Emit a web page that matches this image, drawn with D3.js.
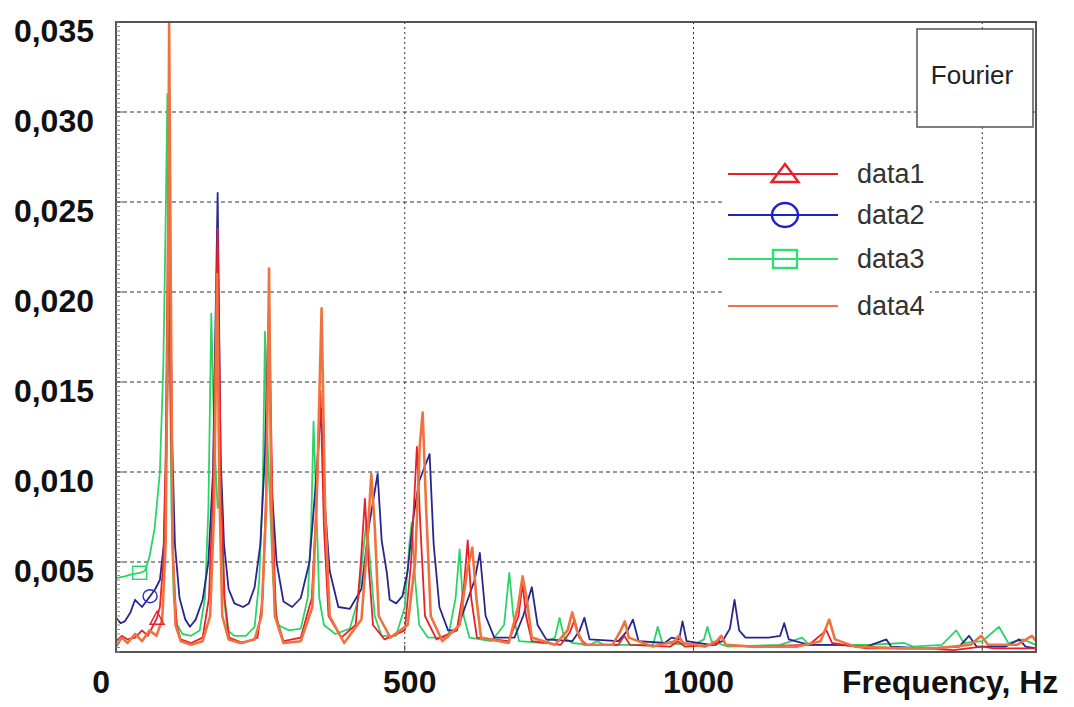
<!DOCTYPE html>
<html><head><meta charset="utf-8">
<script src="https://cdn.jsdelivr.net/npm/d3@7"></script>
<style>body{margin:0;background:#fff;}svg{display:block;}</style>
</head><body>
<svg id="chart" width="1074" height="707"></svg>
<script>
// ---------- data (frequency Hz, amplitude) ----------
const seriesNames = ["data1", "data2", "data3", "data4"];
const seriesColors = ["#e8202a", "#26268f", "#2bd468", "#f0733f"];

const data1 = [[0,0.0006],[10,0.0009],[20,0.0007],[33,0.0008],[45,0.0012],[55,0.0009],[65,0.0015],[71,0.0019],[76,0.0025],[82,0.005],[86,0.011],[91,0.027],[95,0.013],[99,0.005],[105,0.0015],[112,0.0007],[130,0.0005],[150,0.0008],[161,0.003],[168,0.009],[176,0.0235],[182,0.009],[188,0.003],[196,0.0008],[220,0.0005],[245,0.0008],[254,0.003],[260,0.009],[265,0.0195],[271,0.008],[277,0.002],[290,0.0006],[320,0.0008],[339,0.003],[347,0.008],[354,0.0145],[360,0.007],[368,0.002],[390,0.0008],[415,0.0015],[424,0.005],[431,0.0085],[437,0.005],[445,0.0015],[465,0.0007],[500,0.0012],[511,0.005],[521,0.0114],[527,0.007],[535,0.002],[555,0.0007],[590,0.0012],[602,0.0035],[609,0.0062],[615,0.003],[625,0.0008],[680,0.0006],[697,0.002],[704,0.0038],[710,0.002],[720,0.0006],[770,0.0004],[786,0.0011],[794,0.0018],[802,0.0008],[815,0.0004],[870,0.0004],[880,0.0009],[890,0.0004],[960,0.0003],[973,0.0006],[985,0.0003],[1040,0.0004],[1048,0.0009],[1056,0.0004],[1100,0.0003],[1200,0.0004],[1230,0.0012],[1240,0.0005],[1300,0.0002],[1400,0.0002],[1450,0.0001],[1500,0.0003],[1520,0.0002],[1593,0.0002]];

const data2 = [[0,0.0019],[8,0.0016],[15,0.0017],[25,0.0022],[33,0.0029],[45,0.0025],[59,0.0031],[68,0.0035],[76,0.004],[83,0.006],[88,0.012],[93,0.024],[97,0.012],[102,0.006],[110,0.003],[120,0.0018],[128,0.0014],[138,0.0018],[150,0.0029],[160,0.005],[168,0.01],[176,0.0255],[181,0.011],[187,0.006],[195,0.0035],[205,0.0027],[220,0.0025],[230,0.0027],[240,0.0036],[250,0.006],[258,0.011],[264,0.0185],[270,0.009],[278,0.005],[290,0.0028],[305,0.0025],[320,0.003],[335,0.005],[345,0.009],[355,0.0135],[362,0.008],[370,0.0045],[385,0.0025],[405,0.0024],[425,0.0035],[438,0.007],[453,0.0099],[460,0.0062],[469,0.0044],[474,0.0029],[485,0.0027],[496,0.0031],[505,0.0045],[515,0.0075],[525,0.0095],[543,0.011],[550,0.006],[560,0.0025],[575,0.0012],[590,0.0012],[610,0.003],[621,0.004],[630,0.0055],[640,0.002],[655,0.0008],[690,0.0008],[705,0.002],[720,0.0036],[730,0.0015],[745,0.0007],[790,0.0006],[803,0.0012],[811,0.0019],[820,0.0007],[870,0.0006],[886,0.0012],[895,0.0018],[905,0.0006],[950,0.0005],[962,0.0008],[975,0.0007],[981,0.0017],[988,0.0006],[1030,0.0004],[1050,0.0006],[1063,0.0013],[1071,0.0029],[1079,0.0012],[1090,0.0008],[1130,0.0008],[1150,0.0009],[1157,0.0016],[1165,0.0007],[1200,0.0004],[1250,0.0004],[1300,0.0003],[1334,0.0007],[1342,0.0003],[1400,0.0002],[1460,0.0003],[1477,0.0009],[1490,0.0003],[1540,0.0003],[1564,0.0007],[1575,0.0003],[1593,0.0002]];

const data3 = [[0,0.0041],[15,0.0042],[25,0.0043],[41,0.0044],[50,0.0045],[58,0.0053],[67,0.0069],[76,0.010],[82,0.016],[86,0.024],[89,0.031],[92,0.02],[96,0.008],[100,0.003],[106,0.0015],[115,0.001],[130,0.0009],[145,0.0012],[154,0.003],[160,0.008],[165,0.0188],[170,0.012],[176,0.008],[183,0.009],[187,0.003],[193,0.0012],[205,0.0009],[225,0.0009],[240,0.0014],[248,0.004],[254,0.009],[258,0.0178],[262,0.012],[267,0.008],[272,0.004],[280,0.0015],[300,0.0012],[320,0.0013],[332,0.003],[338,0.007],[342,0.0128],[347,0.008],[352,0.003],[360,0.0015],[380,0.001],[405,0.0013],[420,0.003],[430,0.0062],[434,0.0073],[440,0.005],[448,0.002],[460,0.0009],[485,0.0009],[500,0.0025],[508,0.006],[512,0.0072],[518,0.004],[525,0.0015],[540,0.0008],[575,0.0008],[588,0.003],[595,0.0057],[602,0.002],[612,0.0008],[650,0.0006],[672,0.0015],[681,0.0044],[688,0.002],[698,0.0006],[740,0.0005],[760,0.0008],[768,0.0019],[776,0.0008],[790,0.0005],[820,0.0004],[833,0.0006],[845,0.0004],[930,0.0004],[938,0.0014],[946,0.0005],[1000,0.0004],[1018,0.0007],[1024,0.0014],[1031,0.0006],[1060,0.0003],[1150,0.0004],[1188,0.0008],[1200,0.0004],[1300,0.0004],[1365,0.0005],[1380,0.0003],[1430,0.0004],[1455,0.0012],[1468,0.0005],[1500,0.0006],[1529,0.0014],[1545,0.0005],[1570,0.0007],[1593,0.0004]];

const data4 = [[0,0.0003],[10,0.0008],[20,0.0005],[33,0.0010],[45,0.0006],[58,0.0012],[70,0.0009],[80,0.0018],[86,0.006],[90,0.02],[92,0.035],[95,0.02],[98,0.006],[103,0.0015],[112,0.0006],[130,0.0004],[150,0.0006],[163,0.002],[170,0.008],[175,0.021],[179,0.009],[184,0.002],[195,0.0007],[215,0.0005],[240,0.0007],[252,0.002],[260,0.008],[265,0.0213],[269,0.008],[275,0.002],[290,0.0005],[320,0.0006],[340,0.0025],[348,0.009],[356,0.0191],[362,0.008],[370,0.002],[395,0.0005],[425,0.0018],[435,0.006],[442,0.0099],[448,0.007],[455,0.002],[475,0.0008],[505,0.0015],[518,0.005],[526,0.0115],[531,0.0133],[537,0.008],[545,0.002],[565,0.0006],[595,0.0015],[608,0.0045],[617,0.0058],[624,0.003],[632,0.0008],[680,0.0005],[696,0.0025],[704,0.0042],[711,0.003],[720,0.0008],[760,0.0004],[782,0.0012],[790,0.0022],[798,0.0012],[810,0.0004],[860,0.0004],[874,0.0012],[881,0.0017],[888,0.0008],[930,0.0003],[968,0.0006],[974,0.0009],[982,0.0005],[1020,0.0003],[1040,0.0006],[1048,0.0009],[1056,0.0004],[1100,0.0003],[1180,0.0003],[1220,0.0006],[1235,0.0018],[1245,0.0007],[1280,0.0003],[1360,0.0002],[1420,0.0002],[1480,0.0004],[1498,0.0009],[1510,0.0004],[1560,0.0004],[1586,0.0009],[1593,0.0006]];

const seriesData = [data1, data2, data3, data4];
const markerShapes = ["triangle", "circle", "square", null];
const markerFreqs = [71, 59, 41, null];

const yTickValues = [0.005, 0.010, 0.015, 0.020, 0.025, 0.030, 0.035];
const xLabelValues = [0, 500, 1000];
const xGridValues = [500, 1000, 1500];
const xTitle = "Frequency, Hz";
const boxText = "Fourier";

// ---------- layout ----------
const svg = d3.select("#chart");
const L = 116, R = 1036, T = 22, B = 652;
const x = d3.scaleLinear().domain([0, 1593]).range([L, R]);
const y = d3.scaleLinear().domain([0, 0.035]).range([B, T]);
const fmt = d3.formatLocale({decimal: ",", thousands: ".", grouping: [3], currency: ["", ""]}).format(".3f");

// grid
const grid = svg.append("g");
grid.selectAll("line.hg").data(yTickValues.filter(v => v < 0.035)).join("line")
  .attr("x1", L).attr("x2", R).attr("y1", d => y(d)).attr("y2", d => y(d))
  .attr("stroke", "#333").attr("stroke-width", 1).attr("stroke-dasharray", "4,3");
grid.selectAll("line.vg").data(xGridValues).join("line")
  .attr("y1", T).attr("y2", B).attr("x1", d => x(d)).attr("x2", d => x(d))
  .attr("stroke", "#333").attr("stroke-width", 1).attr("stroke-dasharray", "2,3");

// series
svg.append("clipPath").attr("id", "clip").append("rect")
  .attr("x", L).attr("y", T - 2).attr("width", R - L).attr("height", B - T + 2);
const line = d3.line().x(d => x(d[0])).y(d => y(d[1]));
const drawOrder = [2, 1, 0, 3];
const plot = svg.append("g").attr("clip-path", "url(#clip)");
drawOrder.forEach(i => {
  plot.append("path").datum(seriesData[i])
    .attr("d", line).attr("fill", "none")
    .attr("stroke", seriesColors[i])
    .attr("stroke-width", i === 3 ? 2.6 : 1.8)
    .attr("stroke-linejoin", "round");
});

function drawMarker(g, shape, cx, cy, w, h, color, sw) {
  if (shape === "triangle") {
    g.append("path").attr("d", `M${cx},${cy - h / 2}L${cx + w / 2},${cy + h / 2}L${cx - w / 2},${cy + h / 2}Z`)
      .attr("fill", "none").attr("stroke", color).attr("stroke-width", sw);
  } else if (shape === "circle") {
    g.append("ellipse").attr("cx", cx).attr("cy", cy).attr("rx", w / 2).attr("ry", h / 2)
      .attr("fill", "none").attr("stroke", color).attr("stroke-width", sw);
  } else if (shape === "square") {
    g.append("rect").attr("x", cx - w / 2).attr("y", cy - h / 2).attr("width", w).attr("height", h)
      .attr("fill", "none").attr("stroke", color).attr("stroke-width", sw);
  }
}
seriesData.forEach((s, i) => {
  if (!markerShapes[i]) return;
  const p = s.find(d => d[0] === markerFreqs[i]);
  const mc = i === 1 ? "#2a2ad0" : seriesColors[i];
  if (p) drawMarker(plot, markerShapes[i], x(p[0]), y(p[1]), 14, 13, mc, 1.4);
});

// frame
svg.append("rect").attr("x", L).attr("y", T).attr("width", R - L).attr("height", B - T)
  .attr("fill", "none").attr("stroke", "#555").attr("stroke-width", 2);

// minor ticks on left axis
const minor = d3.range(0, 0.035001, 0.00025);
svg.append("g").selectAll("line").data(minor).join("line")
  .attr("x1", L).attr("x2", L + 4).attr("y1", d => y(d)).attr("y2", d => y(d))
  .attr("stroke", "#888").attr("stroke-width", 1);
svg.append("g").selectAll("line").data(yTickValues).join("line")
  .attr("x1", L).attr("x2", L + 7).attr("y1", d => y(d)).attr("y2", d => y(d))
  .attr("stroke", "#555").attr("stroke-width", 1);
svg.append("g").selectAll("line").data(xGridValues).join("line")
  .attr("x1", d => x(d)).attr("x2", d => x(d)).attr("y1", B).attr("y2", B - 7)
  .attr("stroke", "#555").attr("stroke-width", 1);

// y labels
svg.append("g").selectAll("text").data(yTickValues).join("text")
  .attr("x", 94).attr("y", d => y(d) + 20)
  .attr("text-anchor", "end")
  .attr("font-family", "Liberation Sans, Arial, sans-serif").attr("font-weight", "bold")
  .attr("font-size", 32).attr("fill", "#111")
  .text(d => fmt(d));

// x labels
svg.append("g").selectAll("text").data(xLabelValues).join("text")
  .attr("x", d => d === 0 ? x(d) - 6 : x(d) + 5).attr("y", 693)
  .attr("text-anchor", d => d === 0 ? "end" : "middle")
  .attr("font-family", "Liberation Sans, Arial, sans-serif").attr("font-weight", "bold")
  .attr("font-size", 32).attr("fill", "#111")
  .text(d => d);
svg.append("text").attr("x", 842).attr("y", 693)
  .attr("font-family", "Liberation Sans, Arial, sans-serif").attr("font-weight", "bold")
  .attr("font-size", 32).attr("fill", "#111").text(xTitle);

// Fourier box
svg.append("rect").attr("x", 917).attr("y", 29).attr("width", 116).attr("height", 98)
  .attr("fill", "#fff").attr("stroke", "#555").attr("stroke-width", 1.5);
svg.append("text").attr("x", 972).attr("y", 84).attr("text-anchor", "middle")
  .attr("font-family", "Liberation Sans, Arial, sans-serif").attr("font-size", 26)
  .attr("fill", "#222").text(boxText);

// legend
const leg = svg.append("g");
leg.append("rect").attr("x", 725).attr("y", 142).attr("width", 205).attr("height", 193).attr("fill", "#fff");
const legY = [174, 215, 259, 306];
const legColors = ["#e8202a", "#2020c8", "#2fe070", "#f0733f"];
seriesNames.forEach((n, i) => {
  const gy = legY[i];
  leg.append("line").attr("x1", 728).attr("x2", 838).attr("y1", gy).attr("y2", gy)
    .attr("stroke", legColors[i]).attr("stroke-width", 2.2);
  if (markerShapes[i]) {
    const sz = markerShapes[i] === "triangle" ? [27, 18] : markerShapes[i] === "circle" ? [26, 24] : [24, 18];
    const cy = markerShapes[i] === "triangle" ? gy - 1 : gy;
    drawMarker(leg, markerShapes[i], 785, cy, sz[0], sz[1], legColors[i], 2.4);
  }
  leg.append("text").attr("x", 857).attr("y", gy + 9)
    .attr("font-family", "Liberation Sans, Arial, sans-serif").attr("font-size", 27)
    .attr("fill", "#333").text(n);
});
</script>
</body></html>
